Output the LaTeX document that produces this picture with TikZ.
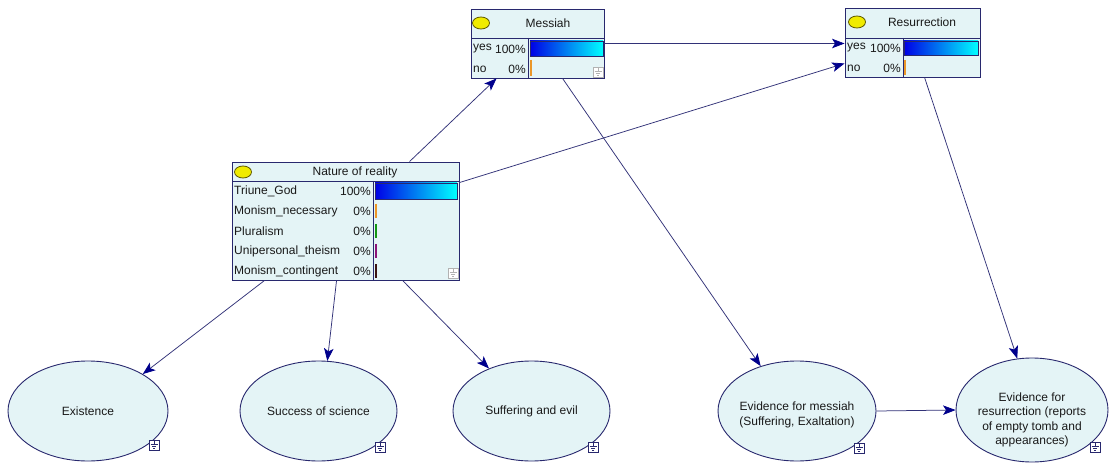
\documentclass[tikz,border=0pt]{standalone}
\usepackage{fontspec}
\setmainfont{Liberation Sans}
\usetikzlibrary{shapes.geometric,arrows.meta,calc}
\definecolor{nodefill}{RGB}{228,244,246}
\definecolor{bordc}{RGB}{40,40,110}
\definecolor{linec}{RGB}{50,50,120}
\definecolor{arrc}{RGB}{0,0,140}
\definecolor{txtc}{RGB}{25,25,25}
\definecolor{circfill}{RGB}{240,235,0}
\definecolor{circdraw}{RGB}{95,90,0}
\definecolor{tickor}{RGB}{235,150,40}
\definecolor{tickgr}{RGB}{20,150,20}
\definecolor{tickpu}{RGB}{140,20,120}
\definecolor{tickbr}{RGB}{60,20,20}
\begin{document}
\begin{tikzpicture}[x=1pt,y=-1pt,
  font=\fontsize{12}{14.3}\selectfont, text=txtc,
  tbl/.style={rectangle, draw=bordc, fill=nodefill, line width=0.9pt, inner sep=0pt},
  chance/.style={ellipse, draw=bordc, fill=nodefill, line width=0.9pt, inner sep=0pt, align=center},
  sep/.style={draw=bordc, line width=0.8pt},
  lab/.style={inner sep=0pt},
  arr/.style={draw=linec, line width=0.75pt, -{Stealth[length=12.5pt,width=9.5pt,inset=3pt,color=arrc]}},
  dot/.style={draw=circdraw, fill=circfill, line width=0.8pt},
  bar/.style={draw=bordc, line width=0.6pt, left color=blue!90!black, right color=cyan},
  tick/.style={line width=1.1pt},
  gnd/.pic={
    \draw[fill=white, draw=#1, line width=0.6pt] (-5,-5) rectangle (5,5);
    \draw[draw=#1, line width=0.6pt] (0,-4) -- (0,-1) (-3.5,-1) -- (3.5,-1) (-2.2,1) -- (2.2,1) (-1,3) -- (1,3);
  }
]
\useasboundingbox (0,0) rectangle (1110,470);
\fill[white] (0,0) rectangle (1110,470);

% ---------- Messiah ----------
\node[tbl, minimum width=133pt, minimum height=69pt] (messiah) at (537.5,43.5) {};
\draw[sep] (471,38) -- (604,38) (528,38) -- (528,78);
\draw[dot] (481,23) ellipse [x radius=8.5pt, y radius=6pt];
\node[lab] (messiahT) at (548,23) {Messiah};
\node[lab, anchor=west] (mYes) at (473,49) {yes};
\node[lab, anchor=east] (mYesP) at (526,49) {100\%};
\node[lab, anchor=west] (mNo) at (473,69) {no};
\node[lab, anchor=east] (mNoP) at (526,69) {0\%};
\shade[bar] (530,41) rectangle (603,56);
\draw[tick, tickor] (531,60) -- (531,76);
\pic at (598,72) {gnd=gray!60};

% ---------- Resurrection ----------
\node[tbl, minimum width=135pt, minimum height=69pt] (resur) at (912.5,42.5) {};
\draw[sep] (845,38) -- (980,38) (903,38) -- (903,77);
\draw[dot] (857,22) ellipse [x radius=8.5pt, y radius=6pt];
\node[lab] (resurT) at (922,22) {Resurrection};
\node[lab, anchor=west] (rYes) at (847,48) {yes};
\node[lab, anchor=east] (rYesP) at (901,48) {100\%};
\node[lab, anchor=west] (rNo) at (847,68) {no};
\node[lab, anchor=east] (rNoP) at (901,68) {0\%};
\shade[bar] (904,41) rectangle (978,55);
\draw[tick, tickor] (905,60) -- (905,75);

% ---------- Nature of reality ----------
\node[tbl, minimum width=227pt, minimum height=118pt] (nature) at (345.5,221) {};
\draw[sep] (232,181) -- (459,181) (373,181) -- (373,280);
\draw[dot] (243,172) ellipse [x radius=8.5pt, y radius=6pt];
\node[lab] (natureT) at (355,172) {Nature of reality};
\node[lab, anchor=west] (n1) at (234,191) {Triune\_God};
\node[lab, anchor=east] (n1p) at (371,191) {100\%};
\node[lab, anchor=west] (n2) at (234,211) {Monism\_necessary};
\node[lab, anchor=east] (n2p) at (371,211) {0\%};
\node[lab, anchor=west] (n3) at (234,231) {Pluralism};
\node[lab, anchor=east] (n3p) at (371,231) {0\%};
\node[lab, anchor=west] (n4) at (234,251) {Unipersonal\_theism};
\node[lab, anchor=east] (n4p) at (371,251) {0\%};
\node[lab, anchor=west] (n5) at (234,271) {Monism\_contingent};
\node[lab, anchor=east] (n5p) at (371,271) {0\%};
\shade[bar] (375,183) rectangle (457,199);
\draw[tick, tickor] (376,204) -- (376,218);
\draw[tick, tickgr] (376,224) -- (376,238);
\draw[tick, tickpu] (376,244) -- (376,258);
\draw[tick, tickbr] (376,264) -- (376,278);
\pic at (453,273) {gnd=gray!60};

% ---------- Ellipses ----------
\node[chance, minimum width=160pt, minimum height=100pt] (exist) at (88,411) {Existence};
\node[chance, minimum width=157pt, minimum height=100pt] (science) at (318.5,411) {Success of science};
\node[chance, minimum width=157pt, minimum height=100pt] (suffer) at (531.5,411) {Suffering and evil};
\node[chance, minimum width=158pt, minimum height=100pt, label={[align=center, yshift=-4pt]center:Evidence for messiah\\(Suffering, Exaltation)}] (evm) at (797,411) {};
\node[chance, minimum width=152pt, minimum height=104pt, label={[align=center, yshift=-10pt]center:Evidence for\\resurrection (reports\\of empty tomb and\\appearances)}] (evr) at (1032,410) {};
\pic at (154,445) {gnd=bordc};
\pic at (380,447) {gnd=bordc};
\pic at (593,447) {gnd=bordc};
\pic at (859,448) {gnd=bordc};
\pic at (1095,447) {gnd=bordc};

% ---------- Connectors ----------
\draw[arr] ([xshift=178pt]nature.north west) -- ([xshift=26pt]messiah.south west);
\draw[arr] ([yshift=-21pt]nature.north east) -- ([yshift=14pt]resur.south west);
\draw[arr] (messiah.east) -- (messiah.east -| resur.west);
\draw[arr] ([xshift=92pt]messiah.south west) -- (evm.129);
\draw[arr] ([xshift=80pt]resur.south west) -- (evr.106);
\draw[arr] ([xshift=33pt]nature.south west) -- (exist.34);
\draw[arr] ([xshift=105pt]nature.south west) -- (science.80);
\draw[arr] ([xshift=171pt]nature.south west) -- (suffer.135);
\draw[arr] (evm.east) -- (evr.west);
\end{tikzpicture}
\end{document}
